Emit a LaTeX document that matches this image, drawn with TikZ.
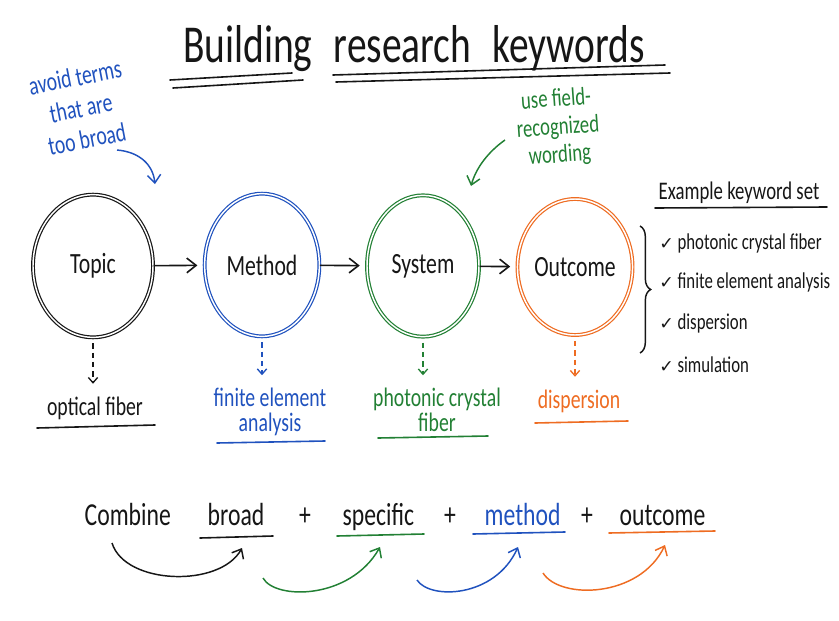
\documentclass[tikz,border=0pt]{standalone}
\usepackage{fontspec}
\setmainfont{Carlito}[FakeStretch=0.74]
\newfontfamily\symfont{DejaVu Sans}
\usepackage{tikz}
\usetikzlibrary{shapes.geometric,arrows.meta,decorations.pathreplacing}
\definecolor{ink}{RGB}{22,22,22}
\definecolor{penblue}{RGB}{32,82,190}
\definecolor{pengreen}{RGB}{34,128,52}
\definecolor{penorange}{RGB}{238,108,34}
\newcommand{\fsz}[2]{\fontsize{#1}{#2}\selectfont}
\newcommand{\chk}{{\symfont\fsz{13}{13}✓}}

\begin{document}
\begin{tikzpicture}[x=0.75pt,y=-0.75pt,text=ink,
                bubble/.style={ellipse,draw=#1,double=white,line width=0.9pt,double distance=1.1pt,inner sep=0pt,font=\fsz{22}{26}},
                flow/.style={-{Straight Barb[length=7pt,width=11pt]},line width=1.2pt,ink,shorten >=5pt},
                drop/.style={-{Straight Barb[length=4pt,width=7pt]},dash pattern=on 4pt off 3pt,line width=1pt,#1,shorten <=4pt,shorten >=6pt},
                hook/.style={-{Straight Barb[length=6pt,width=10pt]},line width=1.1pt,#1},
                pen/.style={line width=1.2pt,line cap=round,#1},
                note/.style={inner sep=0pt,align=center,#1}]
                \useasboundingbox (0,0) rectangle (839,621);
                \node[anchor=base,font=\fsz{40}{44}] (title) at (414,62) {Building\hspace{16pt}research\hspace{16pt}keywords};
                \draw[pen=ink] (170,80) -- (292,73);
                \draw[pen=ink] (173,88) -- (303,80);
                \draw[pen=ink] (333,75) -- (665,65);
                \draw[pen=ink] (336,82) -- (670,73);
                \node[bubble=ink,minimum width=90pt,minimum height=107pt] (topic) at (93,266) {Topic};
                \node[bubble=penblue,minimum width=86pt,minimum height=107pt] (method) at (262,265) {Method};
                \node[bubble=pengreen,minimum width=84pt,minimum height=106pt] (system) at (423,266) {System};
                \node[bubble=penorange,minimum width=78pt,minimum height=102pt] (outcome) at (575,267) {Outcome};
                \draw[flow] (topic) -- (method);
                \draw[flow] (method) -- (system);
                \draw[flow] (system) -- (outcome);
                \node[note=penblue,rotate=11,font=\fsz{20}{23.5}] (broadnote) at (81,108) {avoid terms\\that are\\too broad};
                \coordinate (broadtail) at (117,150);
                \coordinate (broadtip) at (155,184);
                \draw[hook=penblue] (broadtail) .. controls (140,152) and (153,165) .. (broadtip);
                \node[note=pengreen,rotate=4,font=\fsz{19}{21}] (fieldnote) at (558,128) {use field-\\recognized\\wording};
                \coordinate (fieldtail) at (505,140);
                \coordinate (fieldtip) at (471,186);
                \draw[hook=pengreen] (fieldtail) .. controls (488,152) and (476,168) .. (fieldtip);
                \node[anchor=base,font=\fsz{20}{24}] (lbltopic) at (95,415) {optical fiber};
                \node[penblue,align=center,font=\fsz{20}{19}] (lblmethod) at (270,412) {finite element\\analysis};
                \node[pengreen,align=center,font=\fsz{20}{19}] (lblsystem) at (437,410) {photonic crystal\\fiber};
                \node[anchor=base,penorange,font=\fsz{20}{24}] (lbloutcome) at (579,408) {dispersion};
                \draw[drop=ink] (topic.south) -- (topic.south |- lbltopic.north);
                \draw[drop=penblue] (method.south) -- (method.south |- lblmethod.north);
                \draw[drop=pengreen] (system.south) -- (system.south |- lblsystem.north);
                \draw[drop=penorange] (outcome.south) -- (outcome.south |- lbloutcome.north);
                \draw[pen=ink] (37,428) -- (155,425);
                \draw[pen=penblue] (217,443) -- (325,441);
                \draw[pen=pengreen] (378,438) -- (488,436);
                \draw[pen=penorange] (535,423) -- (628,421);
                \node[font=\fsz{19}{22}] (kwhead) at (739,193) {Example keyword set};
                \draw[pen=ink] (655,208) -- (827,207);
                \draw[line width=1.1pt,ink,decorate,decoration={brace,amplitude=8pt}] (640,226) -- (640,353);
                \node[anchor=west,inner sep=0pt,font=\fsz{17}{20}] (kw1) at (659,243) {\chk\ photonic crystal fiber};
                \node[anchor=west,inner sep=0pt,font=\fsz{17}{20}] (kw2) at (659,282) {\chk\ finite element analysis};
                \node[anchor=west,inner sep=0pt,font=\fsz{17}{20}] (kw3) at (659,323) {\chk\ dispersion};
                \node[anchor=west,inner sep=0pt,font=\fsz{17}{20}] (kw4) at (659,365) {\chk\ simulation};
                \node[anchor=base west,font=\fsz{24}{28}] (combine) at (80,525) {Combine};
                \node[anchor=base west,font=\fsz{24}{28}] (broad) at (203,525) {broad};
                \node[font=\fsz{24}{28}] (plus1) at (305,517) {+};
                \node[anchor=base west,font=\fsz{24}{28}] (specific) at (338,525) {specific};
                \node[font=\fsz{24}{28}] (plus2) at (450,517) {+};
                \node[anchor=base west,penblue,font=\fsz{24}{28}] (methodw) at (480,525) {method};
                \node[font=\fsz{24}{28}] (plus3) at (587,517) {+};
                \node[anchor=base west,font=\fsz{24}{28}] (outcomew) at (615,525) {outcome};
                \draw[pen=ink] (200,538) -- (273,536);
                \draw[pen=pengreen] (337,536) -- (424,534);
                \draw[pen=penblue] (473,534) -- (565,532);
                \draw[pen=penorange] (609,533) -- (715,531);
                \coordinate (arcAs) at (112,543);
                \coordinate (arcAe) at (242,548);
                \coordinate (arcBs) at (263,578);
                \coordinate (arcBe) at (380,547);
                \coordinate (arcCs) at (417,580);
                \coordinate (arcCe) at (518,547);
                \coordinate (arcDs) at (543,573);
                \coordinate (arcDe) at (665,545);
                \draw[hook=ink] (arcAs) .. controls (125,585) and (220,588) .. (arcAe);
                \draw[hook=pengreen] (arcBs) .. controls (275,600) and (350,600) .. (arcBe);
                \draw[hook=penblue] (arcCs) .. controls (430,600) and (495,598) .. (arcCe);
                \draw[hook=penorange] (arcDs) .. controls (560,600) and (640,598) .. (arcDe);
            \end{tikzpicture}
\end{document}
